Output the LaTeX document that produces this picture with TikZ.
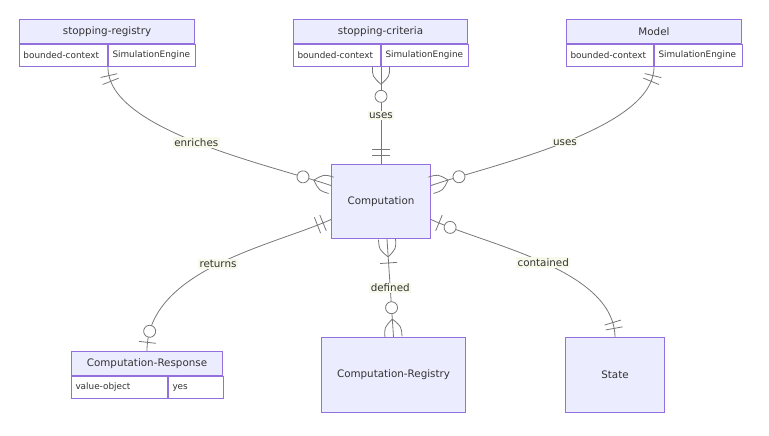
\documentclass[tikz,border=0pt]{standalone}
\usepackage{fontspec}
\setmainfont{DejaVu Sans}
\usepackage{tikz}
\usetikzlibrary{calc}
\usetikzlibrary{decorations.markings}

\definecolor{entfill}{HTML}{ECECFF}
\definecolor{entline}{HTML}{9370DB}
\definecolor{relline}{HTML}{777777}
\definecolor{lblfill}{HTML}{F7F9EA}
\definecolor{txt}{HTML}{333333}

\tikzset{
  entity/.style={draw=entline, fill=entfill, line width=0.75pt, text=txt, font=\fontsize{7.75}{9}\selectfont, inner sep=0pt, anchor=north west},
  attr/.style={draw=entline, fill=white, line width=0.75pt, text=txt, font=\fontsize{6.65}{8}\selectfont, inner xsep=3pt, inner ysep=0pt, minimum height=16.5pt, align=left, anchor=north west},
  rel/.style={draw=relline, line width=0.6pt},
  lbl/.style={fill=lblfill, text=txt, font=\fontsize{7.75}{9}\selectfont, inner sep=1pt},
  exactly one start/.style={postaction={decorate, decoration={markings,
    mark=at position 6.5pt with {\draw[rel] (0,-6.4pt) -- (0,6.4pt);},
    mark=at position 11pt with {\draw[rel] (0,-6.4pt) -- (0,6.4pt);}}}},
  exactly one end/.style={postaction={decorate, decoration={markings,
    mark=at position -6.5pt with {\draw[rel] (0,-6.4pt) -- (0,6.4pt);},
    mark=at position -11pt with {\draw[rel] (0,-6.4pt) -- (0,6.4pt);}}}},
  zero or one start/.style={postaction={decorate, decoration={markings,
    mark=at position 6.5pt with {\draw[rel] (0,-6.4pt) -- (0,6.4pt);},
    mark=at position 15.5pt with {\draw[rel, fill=white] (0,0) circle (4.5pt);}}}},
  zero or one end/.style={postaction={decorate, decoration={markings,
    mark=at position -6.5pt with {\draw[rel] (0,-6.4pt) -- (0,6.4pt);},
    mark=at position -15pt with {\draw[rel, fill=white] (0,0) circle (4.5pt);}}}},
  zero or many start/.style={postaction={decorate, decoration={markings,
    mark=at position 13pt with {\draw[rel] (0,0) .. controls (-6pt,6.4pt) .. (-13pt,6.4pt);
      \draw[rel] (0,0) .. controls (-6pt,-6.4pt) .. (-13pt,-6.4pt);},
    mark=at position 22pt with {\draw[rel, fill=white] (0,0) circle (4.5pt);}}}},
  zero or many end/.style={postaction={decorate, decoration={markings,
    mark=at position -13.5pt with {\draw[rel] (0,0) .. controls (6pt,6.4pt) .. (13.5pt,6.4pt);
      \draw[rel] (0,0) .. controls (6pt,-6.4pt) .. (13.5pt,-6.4pt);},
    mark=at position -22pt with {\draw[rel, fill=white] (0,0) circle (4.5pt);}}}},
  one or many start/.style={postaction={decorate, decoration={markings,
    mark=at position 13.5pt with {\draw[rel] (0,0) .. controls (-6pt,6.4pt) .. (-13.5pt,6.4pt);
      \draw[rel] (0,0) .. controls (-6pt,-6.4pt) .. (-13.5pt,-6.4pt);},
    mark=at position 18pt with {\draw[rel] (0,-6.4pt) -- (0,6.4pt);}}}}
}

\begin{document}
\begin{tikzpicture}[x=0.75pt, y=-0.75pt]
\useasboundingbox (0,0) rectangle (769,436);

\node[entity, minimum width=131.25pt, minimum height=18pt] (reg) at (19,19) {stopping-registry};
\node[attr, text width=60pt] (reg-k) at (reg.south west) {bounded-context};
\node[attr, text width=59.25pt] (reg-v) at (reg-k.north east) {SimulationEngine};

\node[entity, minimum width=130.5pt, minimum height=18pt] (crit) at (293,19) {stopping-criteria};
\node[attr, text width=59.25pt] (crit-k) at (crit.south west) {bounded-context};
\node[attr, text width=59.25pt] (crit-v) at (crit-k.north east) {SimulationEngine};

\node[entity, minimum width=131.25pt, minimum height=18pt] (model) at (566,19) {Model};
\node[attr, text width=59.25pt] (model-k) at (model.south west) {bounded-context};
\node[attr, text width=60pt] (model-v) at (model-k.north east) {SimulationEngine};

\node[entity, minimum width=74.25pt, minimum height=55.5pt] (comp) at (331,164) {Computation};

\node[entity, minimum width=113.25pt, minimum height=18pt] (resp) at (71,351) {Computation-Response};
\node[attr, text width=66pt] (resp-k) at (resp.south west) {value-object};
\node[attr, text width=35.25pt] (resp-v) at (resp-k.north east) {yes};

\node[entity, minimum width=108pt, minimum height=56.25pt] (creg) at (321,337) {Computation-Registry};
\node[entity, minimum width=74.25pt, minimum height=56.25pt] (state) at (565,337) {State};

\draw[rel, exactly one start, zero or many end] (reg-k.south east) .. controls (107,130) and (270,165) .. ($(comp.west)+(0,-16)$) node[lbl, pos=0.5] (l-enriches) {enriches};
\draw[rel, zero or many start, exactly one end] (crit-k.south east) -- (comp.north) node[lbl, midway] (l-uses-crit) {uses};
\draw[rel, exactly one start, zero or many end] (model-k.south east) .. controls (654,130) and (491,165) .. ($(comp.east)+(0,-16)$) node[lbl, pos=0.5] (l-uses-model) {uses};
\draw[rel, exactly one start, zero or one end] ($(comp.west)+(0,18)$) .. controls (275,245) and (147,269) .. (resp.north) node[lbl, pos=0.5] (l-returns) {returns};
\draw[rel, one or many start, zero or many end] ($(comp.south)+(6,0)$) -- (creg.north) node[lbl, midway] (l-defined) {defined};
\draw[rel, zero or one start, exactly one end] ($(comp.east)+(0,18)$) .. controls (486,245) and (614,269) .. (state.north) node[lbl, pos=0.5] (l-contained) {contained};
\end{tikzpicture}
\end{document}
